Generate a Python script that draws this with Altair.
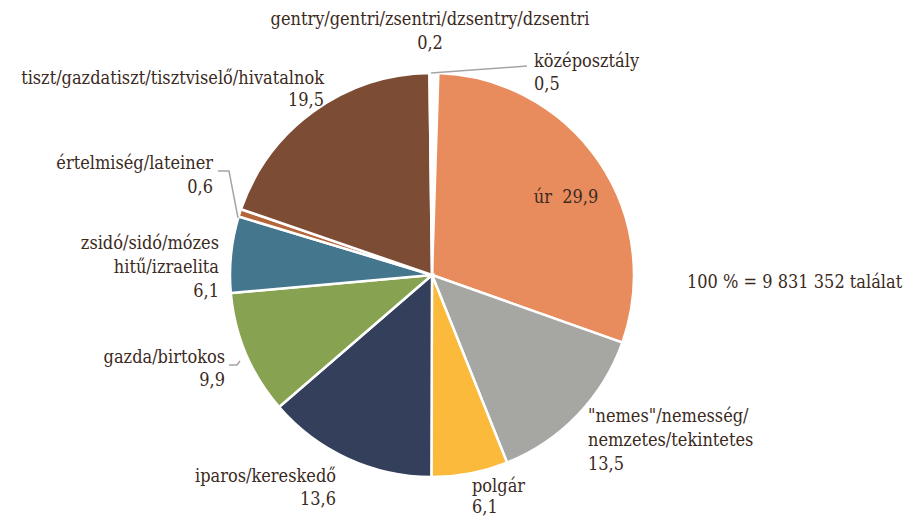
import altair as alt
import pandas as pd

# ---- data ----
categories = [
    "középosztály", "úr", "nemes", "polgár", "iparos",
    "gazda", "zsidó", "értelmiség", "tiszt", "gentry",
]
values = [0.5, 29.9, 13.5, 6.1, 13.6, 9.9, 6.1, 0.6, 19.5, 0.2]
colors = [
    "#FFFFFF", "#E98C5D", "#A6A6A3", "#FBBA3B", "#333F5B",
    "#87A352", "#44768E", "#B4653A", "#7D4C34", "#B8955A",
]
name_lines = {
    "középosztály": ["középosztály"],
    "úr": None,
    "nemes": ['"nemes"/nemesség/', "nemzetes/tekintetes"],
    "polgár": ["polgár"],
    "iparos": ["iparos/kereskedő"],
    "gazda": ["gazda/birtokos"],
    "zsidó": ["zsidó/sidó/mózes", "hitű/izraelita"],
    "értelmiség": ["értelmiség/lateiner"],
    "tiszt": ["tiszt/gazdatiszt/tisztviselő/hivatalnok"],
    "gentry": ["gentry/gentri/zsentri/dzsentry/dzsentri"],
}
total_note = "100 % = 9 831 352 találat"

# ---- layout (pixels in plot area) ----
W, H = 896, 509
CX, CY, R = 424, 267, 202
FONT = "DejaVu Serif Condensed"
FS = 18
TXT = "#3B2A22"

# label anchor: (x, y of first line, align, line height)
label_layout = {
    "gentry": (422, 12, "center", 24),
    "középosztály": (526, 54, "left", 23),
    "úr": (558, 190, "center", 23),
    "nemes": (580, 409, "left", 24),
    "polgár": (464, 479, "left", 21),
    "iparos": (328, 469, "right", 23),
    "gazda": (217, 350, "right", 23),
    "zsidó": (211, 236, "right", 24),
    "értelmiség": (205, 156, "right", 24),
    "tiszt": (316, 71, "right", 22),
}

def fmt(v):
    return f"{v:.1f}".replace(".", ",")

df = pd.DataFrame({"cat": categories, "value": values, "idx": list(range(len(categories)))})

rows = []
for c, v in zip(categories, values):
    x, y0, a, lh = label_layout[c]
    if c == "úr":
        lines = ["úr\u00a0\u00a0" + fmt(v)]
    else:
        lines = name_lines[c] + [fmt(v)]
    for i, t in enumerate(lines):
        rows.append({"x": x, "y": y0 + i * lh, "text": t, "align": a})
rows.append({"x": 679, "y": 275, "text": total_note, "align": "left"})
tdf = pd.DataFrame(rows)

# leader lines
leaders = pd.DataFrame([
    {"g": "k", "o": 0, "x": 423, "y": 65},
    {"g": "k", "o": 1, "x": 519, "y": 58},
    {"g": "e", "o": 0, "x": 210, "y": 163},
    {"g": "e", "o": 1, "x": 221, "y": 163},
    {"g": "e", "o": 2, "x": 230, "y": 210},
    {"g": "z", "o": 0, "x": 221, "y": 357},
    {"g": "z", "o": 1, "x": 229, "y": 357},
    {"g": "z", "o": 2, "x": 232, "y": 353},
])

arcs = alt.Chart(df).mark_arc(outerRadius=R, stroke="white", strokeWidth=2.5).encode(
    theta=alt.Theta("value:Q", stack=True),
    color=alt.Color("cat:N", scale=alt.Scale(domain=categories, range=colors), legend=None),
    order=alt.Order("idx:Q"),
    x=alt.value(CX),
    y=alt.value(CY),
)

lines_layer = alt.Chart(leaders).mark_line(color="#A5A5A5", strokeWidth=1.5).encode(
    x=alt.X("x:Q", scale=None, axis=None),
    y=alt.Y("y:Q", scale=None, axis=None),
    detail="g:N",
    order="o:Q",
)

text_layers = []
for a in ["left", "center", "right"]:
    sub = tdf[tdf["align"] == a]
    text_layers.append(
        alt.Chart(sub).mark_text(align=a, baseline="middle", font=FONT, fontSize=FS, color=TXT).encode(
            x=alt.X("x:Q", scale=None, axis=None),
            y=alt.Y("y:Q", scale=None, axis=None),
            text="text:N",
        )
    )

chart = alt.layer(arcs, lines_layer, *text_layers).properties(
    width=W, height=H, autosize="none", padding=0, background="white"
).configure_view(stroke=None).configure_text(font=FONT)

chart.save("out.html", embed_options={"renderer": "svg", "actions": False})
